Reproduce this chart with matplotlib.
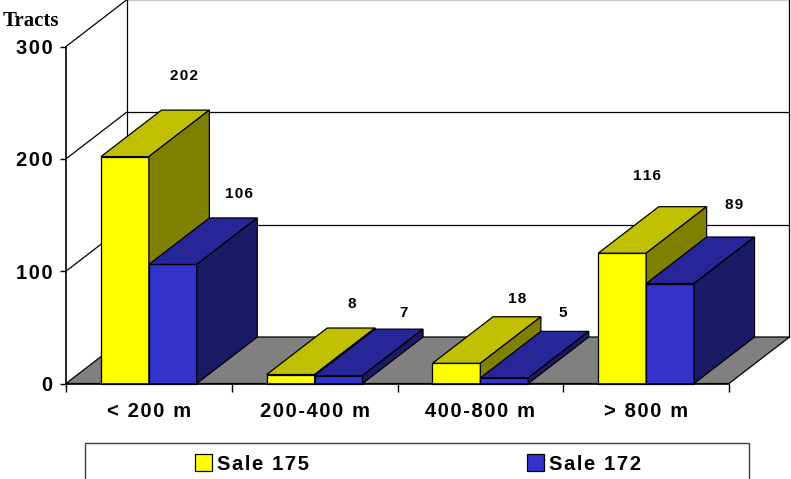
import matplotlib
matplotlib.use("Agg")
import matplotlib.pyplot as plt
from matplotlib.patches import Polygon, Rectangle

categories = ["< 200 m", "200-400 m", "400-800 m", "> 800 m"]
sale_175 = [202, 8, 18, 116]
sale_172 = [106, 7, 5, 89]
y_ticks = [0, 100, 200, 300]

# label offsets in pixels from the front top centre of each bar
offs_175 = [(59, 81), (61, 71), (61, 64), (25, 77)]
offs_172 = [(66, 70), (65, 63), (58, 65), (64.5, 79)]

W, H = 791, 479
X0, Y0 = 66, 383.5      # pixel position of data origin
UX = 165.75             # pixels per category
UY = 1.1233             # pixels per tract
DX = 60.5 / UX          # depth shift
DY = 46.5 / UY
OFFSET = 0.211
BAR_W = 0.289

YELLOW = ("#ffff00", "#c0c000", "#808000")
BLUE = ("#3333cc", "#262699", "#1a1a66")

HAIR = "\u200a"


def spaced(s, sep=HAIR):
    return sep.join(s)


plt.rcParams["font.family"] = ["Liberation Sans", "DejaVu Sans"]
plt.rcParams["font.weight"] = "bold"

fig = plt.figure(figsize=(W / 100, H / 100), dpi=100)
ax = fig.add_axes([0, 0, 1, 1])
ax.set_xlim(-X0 / UX, (W - X0) / UX)
ax.set_ylim(-(H - Y0) / UY, Y0 / UY)
ax.patch.set_visible(False)

top = y_ticks[-1]
n = len(categories)

# floor and walls
ax.add_patch(Polygon([(0, 0), (n, 0), (n + DX, DY), (DX, DY)], fc="#808080", ec="black", lw=0.9, zorder=1))
for v in y_ticks[1:]:
    ax.plot([0, DX], [v, v + DY], color="black", lw=0.9, zorder=1)
    ax.plot([DX, n + DX], [v + DY, v + DY], color="#c8c8c8" if v == top else "black", lw=0.9, zorder=1)
ax.plot([DX, DX], [DY, top + DY], color="black", lw=0.9, zorder=1)
ax.plot([n + DX, n + DX], [DY, top + DY], color="black", lw=0.9, zorder=1)


def draw_bar(x, v, colors, z):
    front, roof, side = colors
    ax.add_patch(Polygon([(x, 0), (x + BAR_W, 0), (x + BAR_W, v), (x, v)], fc=front, ec="black", lw=0.9, zorder=z))
    ax.add_patch(Polygon([(x, v), (x + BAR_W, v), (x + BAR_W + DX, v + DY), (x + DX, v + DY)], fc=roof, ec="black", lw=0.9, zorder=z))
    ax.add_patch(Polygon([(x + BAR_W, 0), (x + BAR_W + DX, DY), (x + BAR_W + DX, v + DY), (x + BAR_W, v)], fc=side, ec="black", lw=0.9, zorder=z))


def draw_label(x, v, off):
    ax.annotate(spaced(str(v)), (x + BAR_W / 2, v), xytext=off, textcoords="offset pixels",
                ha="center", va="center", fontsize=11, zorder=10)


for i in range(n):
    x1 = i + OFFSET
    x2 = x1 + BAR_W
    draw_bar(x1, sale_175[i], YELLOW, 3)
    draw_bar(x2, sale_172[i], BLUE, 3)
    draw_label(x1, sale_175[i], offs_175[i])
    draw_label(x2, sale_172[i], offs_172[i])

# axes lines and ticks
for s in ["top", "right"]:
    ax.spines[s].set_visible(False)
ax.spines["left"].set_position(("data", 0))
ax.spines["left"].set_bounds(0, top)
ax.spines["left"].set_linewidth(1.2)
ax.spines["bottom"].set_position(("data", 0))
ax.spines["bottom"].set_bounds(0, n)
ax.spines["bottom"].set_linewidth(1.2)
for s in ["left", "bottom"]:
    ax.spines[s].set_zorder(5)

ax.set_yticks(y_ticks)
ax.set_yticklabels([spaced(str(v)) for v in y_ticks], fontsize=14.5, fontweight="bold")
ax.tick_params(axis="y", length=4.5, width=1, pad=5)
ax.set_xticks(range(n + 1))
ax.set_xticklabels([])
ax.tick_params(axis="x", which="major", length=5.8, width=1)
ax.set_xticks([i + 0.5 for i in range(n)], minor=True)
ax.set_xticklabels([spaced(c) for c in categories], minor=True, fontsize=14.5, fontweight="bold")
ax.tick_params(axis="x", which="minor", length=0, pad=13.5)

fig.text(3 / W, 1 - 26.5 / H, "Tracts", family=["Liberation Serif"], fontweight="bold", fontsize=15, va="baseline", ha="left")

# legend box runs off the bottom of the picture
fig.add_artist(Rectangle((85 / W, -0.02), (749 - 85) / W, 1 - 443 / H + 0.02, transform=fig.transFigure,
                         fc="white", ec="#404040", lw=1))
for name, col, sx in [("Sale 175", YELLOW[0], 195), ("Sale 172", BLUE[0], 527)]:
    fig.add_artist(Rectangle((sx / W, 1 - 471 / H), 17 / W, 17 / H, transform=fig.transFigure,
                             fc=col, ec="black", lw=0.9))
    fig.text((sx + 22) / W, 1 - 464 / H, spaced(name), fontsize=14.5, fontweight="bold", va="center", ha="left")

fig.savefig("out.png", dpi=100)
